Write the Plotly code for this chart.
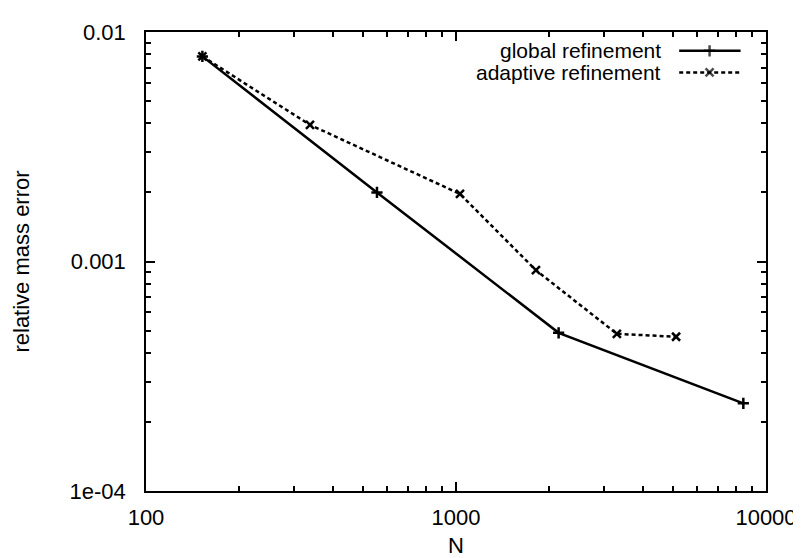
import plotly.graph_objects as go

# Data
global_N = [152, 556, 2143, 8450]
global_err = [0.00783, 0.00200, 0.000489, 0.000241]
adaptive_N = [152, 338, 1030, 1811, 3303, 5128]
adaptive_err = [0.00783, 0.00394, 0.00197, 0.000916, 0.000484, 0.000470]

series_names = ["global refinement", "adaptive refinement"]
x_major = [100, 1000, 10000]
x_major_text = ["100", "1000", "10000"]
x_minor = [200, 300, 400, 500, 600, 700, 800, 900,
           2000, 3000, 4000, 5000, 6000, 7000, 8000, 9000]
y_major = [1e-4, 1e-3, 1e-2]
y_major_text = ["1e-04", "0.001", "0.01"]
y_minor = [2e-4, 3e-4, 4e-4, 5e-4, 6e-4, 7e-4, 8e-4, 9e-4,
           2e-3, 3e-3, 4e-3, 5e-3, 6e-3, 7e-3, 8e-3, 9e-3]

FONT = "Liberation Sans, Arial, Helvetica, sans-serif"
FS = 22
LW = 2.5

fig = go.Figure()
fig.add_trace(go.Scatter(
    x=global_N, y=global_err, mode="lines+markers", name=series_names[0],
    line=dict(color="black", width=LW),
    marker=dict(symbol="cross-thin", size=8, line=dict(color="black", width=2.5)),
    showlegend=False))
fig.add_trace(go.Scatter(
    x=adaptive_N, y=adaptive_err, mode="lines+markers", name=series_names[1],
    line=dict(color="black", width=LW, dash="4px,3px"),
    marker=dict(symbol="x-thin", size=8, line=dict(color="black", width=2.5)),
    showlegend=False))

# gnuplot-style legend (text, then sample) on an overlay axis
leg_rows = [0.959, 0.912]
styles = [
    (dict(color="black", width=LW), dict(symbol="cross-thin", size=[0, 8, 0], line=dict(color="black", width=2.5))),
    (dict(color="black", width=LW, dash="4px,3px"), dict(symbol="x-thin", size=[0, 8, 0], line=dict(color="black", width=2.5))),
]
annotations = []
for name, yy, (ln, mk) in zip(series_names, leg_rows, styles):
    fig.add_trace(go.Scatter(x=[0.860, 0.909, 0.959], y=[yy, yy, yy], mode="lines+markers",
                             line=ln, marker=mk, xaxis="x2", yaxis="y2",
                             showlegend=False, hoverinfo="skip"))
    annotations.append(dict(x=0.834, y=yy, xref="x2", yref="y2", text=name, showarrow=False,
                            xanchor="right", yanchor="middle",
                            font=dict(family=FONT, size=21, color="black")))

all_x = x_major + x_minor
all_y = y_major + y_minor
x_text = x_major_text + [""] * len(x_minor)
y_text = y_major_text + [""] * len(y_minor)

base = dict(type="log", showgrid=False, zeroline=False, ticks="inside", tickwidth=1.5,
            tickcolor="black", mirror="allticks")

fig.update_layout(
    width=801, height=558,
    margin=dict(l=135, r=38, t=22, b=66),
    paper_bgcolor="white", plot_bgcolor="white",
    font=dict(family=FONT, size=FS, color="black"),
    # main axes: all tick positions (short) + labels + frame
    xaxis=dict(**base, range=[2, 4], tickmode="array", tickvals=all_x, ticktext=x_text,
               ticklen=5, showline=True, linecolor="black", linewidth=1.5,
               tickfont=dict(family=FONT, size=FS, color="black"), ticklabelstandoff=6,
               title=dict(text="N", font=dict(family=FONT, size=FS, color="black"), standoff=8)),
    yaxis=dict(**base, range=[-4, -2], tickmode="array", tickvals=all_y, ticktext=y_text,
               ticklen=5, showline=True, linecolor="black", linewidth=1.5,
               tickfont=dict(family=FONT, size=FS, color="black"), ticklabelstandoff=14,
               title=dict(text="relative mass error", font=dict(family=FONT, size=FS, color="black"), standoff=34)),
    # legend overlay axes
    xaxis2=dict(overlaying="x", range=[0, 1], visible=False),
    yaxis2=dict(overlaying="y", range=[0, 1], visible=False),
    # long major tick overlay axes
    xaxis3=dict(**base, overlaying="x", range=[2, 4], tickmode="array", tickvals=x_major,
                ticklen=9, showline=False, showticklabels=False),
    yaxis3=dict(**base, overlaying="y", range=[-4, -2], tickmode="array", tickvals=y_major,
                ticklen=9, showline=False, showticklabels=False),
    annotations=annotations,
)

fig.add_trace(go.Scatter(x=[global_N[0]], y=[global_err[0]], xaxis="x3", yaxis="y3",
                         mode="markers", marker=dict(opacity=0), showlegend=False, hoverinfo="skip"))

fig.write_html("out.html")
